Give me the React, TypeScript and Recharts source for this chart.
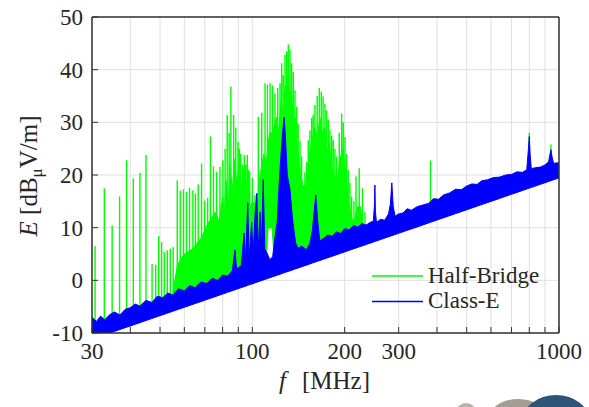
import { Area, CartesianGrid, ComposedChart, XAxis, YAxis } from "recharts"

const FONT = "'Liberation Serif', 'Times New Roman', serif"
const INK = "#262626"
const GREEN = "#00ff00"
const BLUE = "#0000ff"

// axis ticks
const xTicks = [30, 40, 50, 60, 70, 80, 90, 100, 200, 300, 400, 500, 600, 700, 800, 900, 1000]
const xLabels = [30, 100, 200, 300, 1000]
const yTicks = [-10, 0, 10, 20, 30, 40, 50]

// Class-E: noise band (lower edge / upper edge) in dBuV/m over frequency in MHz
const bandFreq = [
  30, 31, 32, 33, 34.3, 35.5, 37, 38.5, 40, 41.5, 43, 45, 47, 49, 51, 53, 55, 57.5, 60, 62.5,
  65, 68, 71, 74, 77, 80, 83, 86, 87.8, 88.8, 92, 94, 95, 96.6, 97.6, 99.5, 100.5, 102, 103.4, 104.6,
  106, 107, 108.5, 109.8, 112, 114, 116.5, 118.5, 120.5, 122, 124, 125.5, 127, 128.5, 130, 132.7, 135, 137, 138.6, 141,
  145, 150, 154, 157, 161, 163.5, 166, 171, 176, 182, 188, 194, 200, 207, 214, 221, 228, 235, 242, 248,
  250, 251, 252, 254, 262, 270, 278, 282, 285, 288, 292, 300, 310, 320, 330, 345, 360, 375, 390, 405,
  420, 440, 460, 480, 500, 520, 540, 560, 585, 610, 640, 670, 700, 730, 760, 785, 795, 800, 805, 812,
  840, 870, 900, 925, 935, 941, 948, 960, 980, 1000,
]
const bandLow = [
  -10, -10, -10, -10, -10, -9.7, -9.34, -8.99, -8.66, -8.34, -8.03, -7.63, -7.25, -6.89, -6.54, -6.2, -5.88, -5.49, -5.12, -4.76,
  -4.42, -4.03, -3.65, -3.29, -2.94, -2.61, -2.28, -1.97, -1.79, -1.7, -1.38, -1.2, -1.11, -0.95, -0.86, -0.7, -0.62, -0.48, -0.36, -0.26,
  -0.15, -0.06, 0.06, 0.17, 0.33, 0.49, 0.68, 0.83, 0.97, 1.08, 1.22, 1.33, 1.44, 1.54, 1.64, 1.81, 1.96, 2.09, 2.19, 2.34,
  2.59, 2.88, 3.11, 3.29, 3.51, 3.64, 3.77, 4.03, 4.28, 4.57, 4.85, 5.13, 5.39, 5.7, 5.98, 6.27, 6.54, 6.8, 7.06, 7.27,
  7.34, 7.38, 7.41, 7.48, 7.75, 8.01, 8.27, 8.39, 8.48, 8.58, 8.7, 8.93, 9.22, 9.5, 9.77, 10.15, 10.53, 10.88, 11.23, 11.56,
  11.87, 12.28, 12.67, 13.04, 13.4, 13.74, 14.07, 14.39, 14.77, 15.13, 15.55, 15.95, 16.34, 16.7, 17.05, 17.34, 17.45, 17.5, 17.56, 17.63,
  17.93, 18.23, 18.53, 18.77, 18.86, 18.92, 18.98, 19.09, 19.27, 19.45,
]
const bandHigh = [
  -7.0, -7.8, -6.8, -7.5, -6.5, -6.0, -6.6, -5.5, -5.2, -4.5, -4.9, -3.8, -4.2, -3.0, -3.3, -2.4, -2.8, -1.6, -2.0, -1.0,
  -1.4, -0.3, -0.6, 0.4, 0.0, 1.0, 0.8, 1.8, 5.8, 2.2, 2.8, 9.0, 3.5, 14.7, 4.0, 11.0, 4.5, 12.5, 16.5, 5.5,
  13.0, 6.0, 19.1, 6.0, 5.0, 3.9, 4.5, 8.2, 11.0, 17.2, 24.0, 28.0, 31.0, 26.0, 20.0, 17.2, 12.0, 9.0, 7.0, 6.1,
  6.5, 5.8, 7.0, 9.5, 16.2, 11.0, 7.5, 8.0, 8.6, 8.4, 9.2, 8.9, 9.8, 9.6, 10.4, 10.1, 10.8, 10.5, 11.0, 11.2,
  14.0, 18.1, 13.0, 11.0, 11.6, 11.4, 12.6, 14.5, 18.5, 14.0, 12.2, 12.6, 12.8, 13.6, 13.3, 14.0, 14.3, 14.6, 15.5, 15.4,
  16.2, 16.6, 17.3, 17.2, 17.9, 18.3, 18.2, 18.9, 19.1, 19.5, 19.6, 20.0, 20.1, 20.6, 20.5, 21.0, 25.0, 27.3, 24.0, 21.2,
  21.4, 21.5, 21.9, 22.5, 24.0, 24.8, 23.6, 22.2, 22.3, 22.3,
]

// Half-Bridge: dense emission envelope (solid green part)
const fillFreq = [
  55, 57, 60, 64, 68, 72, 76, 78, 80, 81, 82, 83.5, 84.5, 86, 87.5, 89, 90.5, 92, 93.5, 95,
  96.5, 98, 100, 103, 106, 109, 111, 112.5, 114, 116, 117.5, 120, 122, 124, 126, 128, 129.5, 131, 132.5, 134,
  136, 138, 140, 143, 146, 149, 152, 156, 160, 163, 166, 169, 172, 175, 178, 181, 185, 189, 193, 197,
  201, 205, 210, 215, 220, 225, 230, 234,
]
const fillLow = [
  -3.5, -3, -3, -2.5, -2, -1.5, -1, -1, -1, -1, -0.5, -0.5, 0, 0, 0.5, 1, 1, 1.5, 1.5, 2,
  2, 2.5, 2.5, 3, 3, 3.5, 4, 10, 10, 10, 5, 6, 6, 6, 6, 6, 6, 6, 6, 5,
  5, 5, 5, 5, 5, 5, 5, 6, 6, 6, 6, 6, 6, 6, 6, 6, 6, 6, 6, 6,
  6, 7, 7, 7, 7, 7, 8, 8,
]
const fillHigh = [
  -2.5, 3, 5, 6, 8, 11, 13, 11, 16, 12, 19, 14, 22, 17, 23, 18, 22, 17, 21, 16,
  20, 14, 15, 14, 20, 24, 22, 26, 28, 28, 29, 31, 28, 34, 31, 37, 34, 39, 35, 36,
  30, 31, 25, 21, 18, 18, 22, 26, 29, 27, 31, 28, 29, 25, 26, 22, 20, 19, 23, 25,
  21, 16, 12, 11, 14, 14, 10, 8.5,
]

// Half-Bridge: individual emission lines (foot, peak)
const hbFreq = [
  30.7, 32.9, 34.9, 36.9, 38.9, 40.9, 43, 45, 47.1, 48.4, 49.5, 50.6, 51.6, 52.8, 54, 55.2, 56.9, 58.2, 59.6, 61,
  62.4, 64, 65.2, 66.6, 68.3, 69.9, 71.5, 73, 74.7, 76.5, 78.4, 80.2, 81.5, 82.8, 84, 85.1, 86.9, 88.3, 89.8, 90.8,
  91.7, 93, 94.2, 95.2, 96.3, 97.2, 98, 100, 102, 104.6, 107.3, 110, 112, 114.2, 116.4, 118.5, 121, 123.1, 124.6, 126.1,
  127.8, 129.4, 131, 132.7, 134.3, 136, 137.7, 139.5, 141.1, 143, 144.8, 148.4, 150.3, 152.2, 154.1, 156.1, 158, 160, 162.7, 165.3,
  167.8, 170.1, 172.5, 174.6, 176.9, 179, 181.4, 183.6, 185.9, 188.2, 192, 195.5, 197.9, 200.4, 202.9, 205.5, 208.1, 210.8, 214.4, 217.8,
  223.1, 228.6, 232.9, 381, 800, 941,
]
const hbBase = [
  -9, -9, -8.5, -8, -7.5, -7, -6.5, -6, -5.5, -5, -5, -4.8, -4.5, -4.2, -4, -3.8, -3.5, -3.3, -3, -2.8,
  -2.6, -2.4, -2.2, -2, -1.8, -1.6, -1.4, -1.2, -1, -0.8, -0.6, -0.4, -0.2, 0, 0, 0, 0.5, 1, 1, 1,
  2, 2, 3, 3, 4, 4, 5, 5, 5, 5, 5, 5, 10, 10, 10, 8, 8, 8, 8, 8,
  8, 8, 8, 8, 8, 8, 8, 8, 8, 8, 8, 8, 8, 8, 8, 8, 8, 8, 8, 8,
  8, 8, 8, 8, 8, 8, 8, 8, 8, 8, 8, 8, 8, 7.5, 7.5, 7.5, 7.5, 8, 8, 8,
  8, 8, 8, 12.5, 18.5, 19.5,
]
const hbPeak = [
  6.5, 17.5, 10.4, 15.9, 22.8, 19.4, 20.4, 23.8, 3.1, 2.9, 8.4, 7.3, 5.4, 5.7, 6.0, 6.3, 19.0, 17.0, 17.3, 16.8,
  17.6, 17.1, 16.5, 18.2, 22.2, 15.1, 15.7, 27.3, 21.6, 20.6, 21.5, 22.8, 25.0, 31.4, 28.0, 36.8, 31.4, 29.0, 26.3, 25.0,
  24.0, 22.0, 23.8, 22.0, 23.8, 21.0, 20.6, 19.5, 16.2, 31.0, 31.8, 37.4, 37.2, 37.4, 37.0, 35.5, 36.5, 37.4, 41.2, 39.0,
  42.8, 43.5, 44.8, 43.8, 41.2, 39.5, 36.1, 33.0, 29.8, 26.5, 23.5, 20.5, 22.5, 26.6, 28.5, 30.8, 31.5, 33.3, 35.0, 36.5,
  35.8, 34.9, 33.5, 32.3, 30.5, 28.5, 27.5, 26.6, 25.0, 23.5, 28.0, 31.7, 30.0, 27.2, 24.0, 21.0, 18.5, 15.9, 15.0, 19.7,
  21.3, 17.5, 13.0, 22.7, 28.0, 25.8,
]

const bandData = bandFreq.map((f, i) => ({ f, r: [bandLow[i], bandHigh[i]] }))
const fillData = fillFreq.map((f, i) => ({ f, r: [fillLow[i], fillHigh[i]] }))
const spikeData = hbFreq.flatMap((f, i) => [
  { f, v: hbBase[i] },
  { f, v: hbPeak[i] },
  { f, v: hbBase[i] },
])

const tickStyle = { fill: INK, fontSize: 23, style: { fontFamily: FONT } }

export default function App() {
  return (
    <div style={{ position: "fixed", left: 0, top: 0, width: 589, height: 407, background: "#fff" }}>
      <ComposedChart width={589} height={407} margin={{ top: 16, right: 29, bottom: 0, left: 0 }}>
        <CartesianGrid stroke="#e0e0e0" strokeWidth={1} />
        <XAxis
          dataKey="f"
          type="number"
          scale="log"
          domain={[30, 1000]}
          allowDataOverflow
          ticks={xTicks}
          interval={0}
          height={74}
          tickSize={-6}
          tickMargin={16}
          tick={tickStyle}
          tickFormatter={(v: number) => (xLabels.includes(v) ? String(v) : "")}
          axisLine={{ stroke: "#333", strokeWidth: 1.5 }}
          tickLine={{ stroke: "#333" }}
        />
        <XAxis
          xAxisId="top"
          orientation="top"
          dataKey="f"
          type="number"
          scale="log"
          domain={[30, 1000]}
          allowDataOverflow
          ticks={xTicks}
          interval={0}
          height={1}
          tickSize={-6}
          tick={false}
          axisLine={{ stroke: "#333", strokeWidth: 1.5 }}
          tickLine={{ stroke: "#333" }}
        />
        <YAxis
          type="number"
          domain={[-10, 50]}
          allowDataOverflow
          ticks={yTicks}
          interval={0}
          width={92}
          tickSize={-6}
          tickMargin={15}
          tick={tickStyle}
          axisLine={{ stroke: "#333", strokeWidth: 1.5 }}
          tickLine={{ stroke: "#333" }}
        />
        <YAxis
          yAxisId="right"
          orientation="right"
          type="number"
          domain={[-10, 50]}
          allowDataOverflow
          ticks={yTicks}
          interval={0}
          width={1}
          tickSize={-6}
          tick={false}
          axisLine={{ stroke: "#333", strokeWidth: 1.5 }}
          tickLine={{ stroke: "#333" }}
        />
        <Area
          data={fillData}
          dataKey="r"
          type="linear"
          stroke={GREEN}
          strokeWidth={1}
          fill={GREEN}
          fillOpacity={1}
          dot={false}
          activeDot={false}
          isAnimationActive={false}
        />
        <Area
          data={spikeData}
          dataKey="v"
          type="linear"
          stroke={GREEN}
          strokeWidth={1.4}
          fill="none"
          dot={false}
          activeDot={false}
          isAnimationActive={false}
        />
        <Area
          data={bandData}
          dataKey="r"
          type="linear"
          stroke={BLUE}
          strokeWidth={1}
          fill={BLUE}
          fillOpacity={1}
          dot={false}
          activeDot={false}
          isAnimationActive={false}
        />
      </ComposedChart>

      {/* axis titles, legend and the slide decoration under the plot */}
      <svg
        width={589}
        height={407}
        style={{ position: "absolute", left: 0, top: 0, pointerEvents: "none", fontFamily: FONT }}
      >
        <text x={279} y={389} fontSize={25} fill={INK}>
          <tspan fontStyle="italic">f</tspan>
          <tspan x={302}>[MHz]</tspan>
        </text>
        <text transform="translate(37,176) rotate(-90)" textAnchor="middle" fontSize={25} fill={INK}>
          <tspan fontStyle="italic">E</tspan>
          <tspan> [dB</tspan>
          <tspan fontSize={17} dy={5}>μ</tspan>
          <tspan dy={-5}>V/m]</tspan>
        </text>

        <line x1={372} x2={423} y1={276} y2={276} stroke={GREEN} strokeWidth={1.5} />
        <text x={428} y={283} fontSize={23} fill={INK}>Half-Bridge</text>
        <line x1={372} x2={423} y1={301.5} y2={301.5} stroke={BLUE} strokeWidth={1.5} />
        <text x={428} y={308} fontSize={23} fill={INK}>Class-E</text>

        <ellipse cx={466} cy={412} rx={10} ry={9} fill="#b8b4ac" />
        <ellipse cx={518} cy={420} rx={30} ry={21} fill="#a29d95" />
        <ellipse cx={556} cy={422} rx={34} ry={27} fill="#2e5578" />
      </svg>
    </div>
  )
}
